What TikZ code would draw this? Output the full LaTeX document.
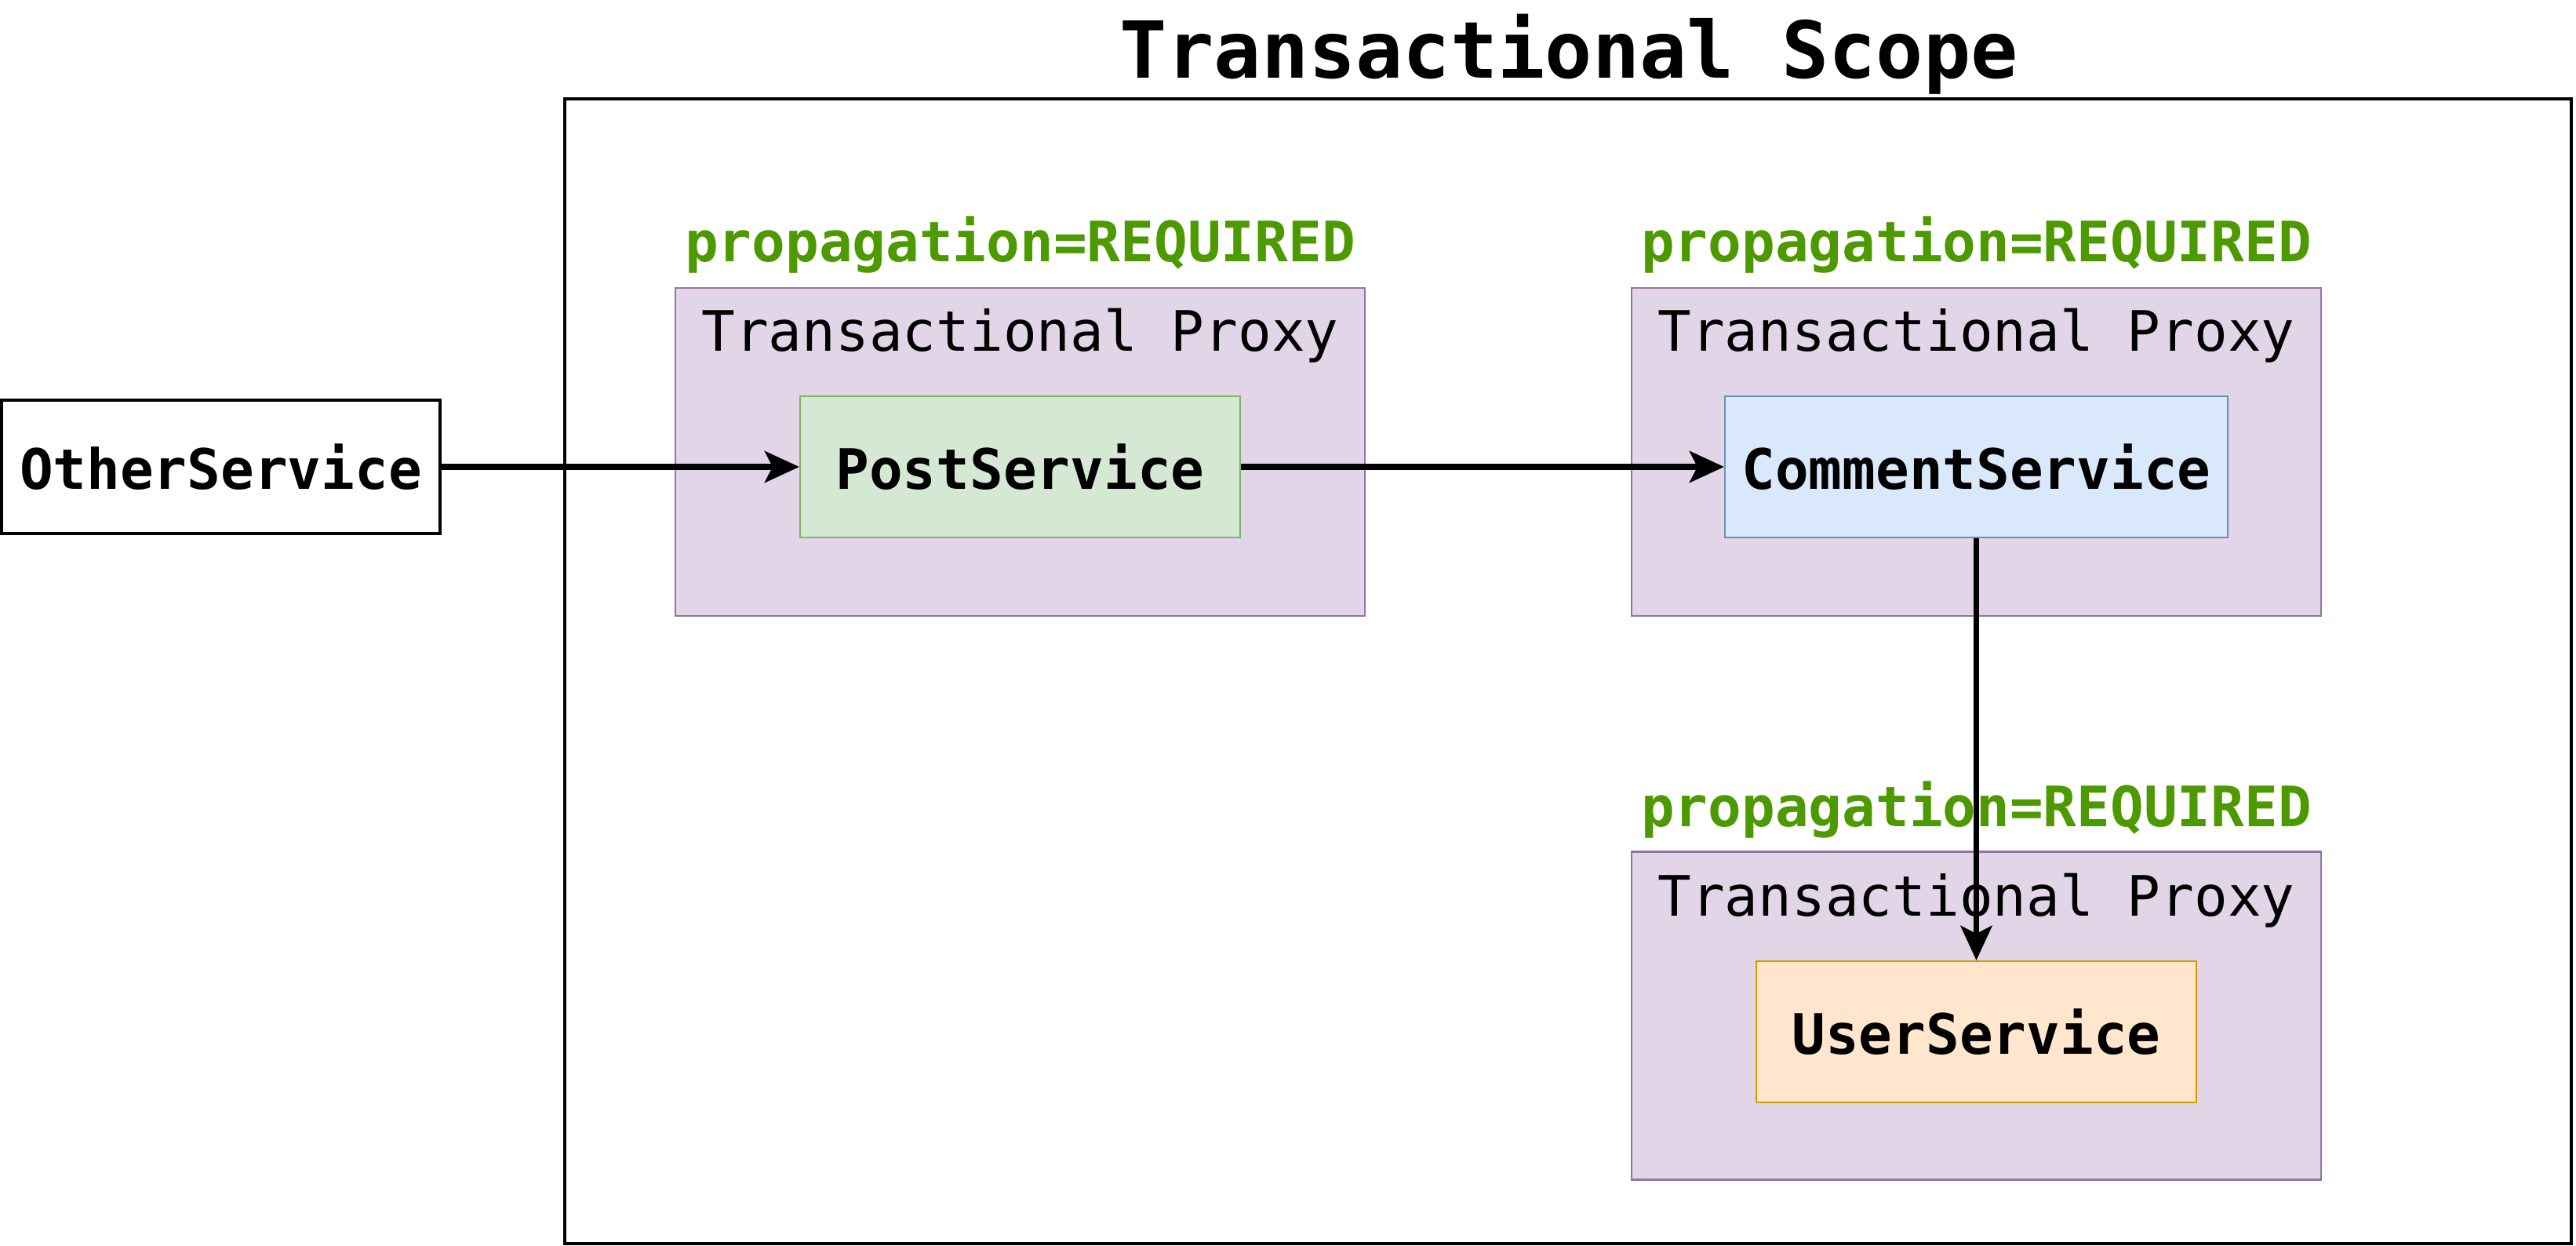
\documentclass[tikz,border=0pt]{standalone}
\usepackage{fontspec}
\setmonofont{DejaVu Sans Mono}
\usepackage{tikz}
\usetikzlibrary{arrows.meta}
\definecolor{proxyfill}{HTML}{E1D5E7}
\definecolor{proxyline}{HTML}{9673A6}
\definecolor{postfill}{HTML}{D5E8D4}
\definecolor{postline}{HTML}{82B366}
\definecolor{commentfill}{HTML}{DAE8FC}
\definecolor{commentline}{HTML}{6C8EBF}
\definecolor{userfill}{HTML}{FFE6CC}
\definecolor{userline}{HTML}{D79B00}
\definecolor{propgreen}{HTML}{4D9900}

\begin{document}
\begin{tikzpicture}[every node/.style={font=\ttfamily\fontsize{20.2}{24}\selectfont, inner sep=0pt},
  proxybox/.style={draw=proxyline, fill=proxyfill, line width=0.6pt, minimum width=8.79cm, minimum height=4.18cm},
  svcbox/.style={draw, line width=0.6pt, minimum height=1.80cm, font=\ttfamily\bfseries\fontsize{20.2}{24}\selectfont},
  proplabel/.style={anchor=base, text=propgreen, font=\ttfamily\bfseries\fontsize{20.2}{24}\selectfont},
  call/.style={-{Stealth[length=0.44cm, width=0.40cm, inset=0.1cm]}, line width=2.1pt}]
  \useasboundingbox (0,0) rectangle (32.84,-15.88);
  \node[anchor=base, font=\ttfamily\bfseries\fontsize{28.5}{34}\selectfont] (title) at (20.00,-1.00) {Transactional Scope};
  \draw[line width=0.9pt] (7.20,-1.26) rectangle (32.78,-15.85);
  \node[draw, line width=1.1pt, minimum width=5.59cm, minimum height=1.70cm, font=\ttfamily\bfseries\fontsize{20.2}{24}\selectfont] (other) at (2.815,-5.95) {OtherService};
  \node[proxybox] (proxyPost) at (13.005,-5.76) {};
  \node[proxybox] (proxyComment) at (25.195,-5.76) {};
  \node[proxybox] (proxyUser) at (25.195,-12.945) {};
  \node[proplabel] (propPost) at (13.005,-3.34) {propagation=REQUIRED};
  \node[proplabel] (propComment) at (25.195,-3.34) {propagation=REQUIRED};
  \node[proplabel] (propUser) at (25.195,-10.53) {propagation=REQUIRED};
  \node[anchor=base] (labPost) at (13.005,-4.48) {Transactional Proxy};
  \node[anchor=base] (labComment) at (25.195,-4.48) {Transactional Proxy};
  \node[anchor=base] (labUser) at (25.195,-11.67) {Transactional Proxy};
  \node[svcbox, draw=postline, fill=postfill, minimum width=5.61cm] (post) at (13.005,-5.95) {PostService};
  \node[svcbox, draw=commentline, fill=commentfill, minimum width=6.41cm] (comment) at (25.195,-5.95) {CommentService};
  \node[svcbox, draw=userline, fill=userfill, minimum width=5.61cm] (user) at (25.195,-13.15) {UserService};
  \draw[call] (other.east) -- (post.west);
  \draw[call] (post.east) -- (comment.west);
  \draw[call] (comment.south) -- (user.north);
\end{tikzpicture}
\end{document}
